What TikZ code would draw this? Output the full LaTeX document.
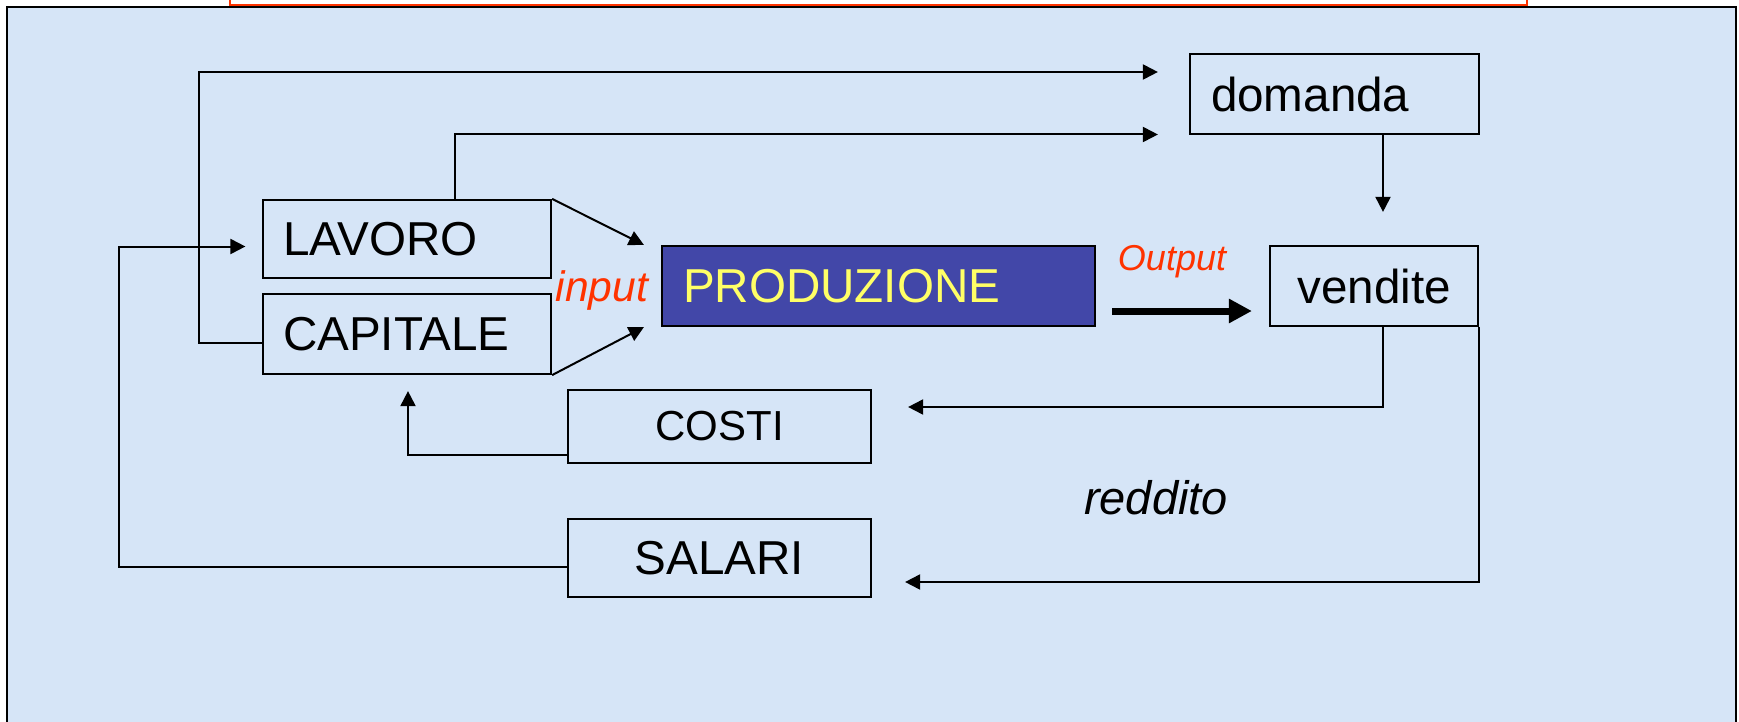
\documentclass[tikz,border=0pt]{standalone}
\usepackage{fontspec}
\setmainfont{Liberation Sans}
\usetikzlibrary{arrows.meta,calc}

\definecolor{panelblue}{RGB}{214,229,247}
\definecolor{prodblue}{RGB}{66,71,168}
\definecolor{prodyellow}{RGB}{255,255,102}
\definecolor{labelred}{RGB}{255,51,0}

\newcommand{\bigtext}{\fontsize{23.8pt}{28pt}\selectfont}
\newcommand{\costitext}{\fontsize{21pt}{25pt}\selectfont}

\tikzset{
  box/.style={draw=black, line width=1.1pt, rectangle, inner ysep=0pt,
              font=\bigtext},
  leftbox/.style={box, align=left},
  arr/.style={-{Triangle[length=7.5pt,width=7.5pt]}, line width=1pt},
  flowarr/.style={-{Triangle[length=11.5pt,width=11.5pt]}, line width=3.5pt},
  tag/.style={inner sep=0pt, font=\fontsize{#1}{#1}\selectfont\itshape},
}

\begin{document}
\begin{tikzpicture}[x=0.5pt,y=-0.5pt]
  \useasboundingbox (0,0) rectangle (1739,722);
  \clip (0,0) rectangle (1739,722);

  % slide panel and title frame
  \fill[white] (0,0) rectangle (1739,722);
  \draw[line width=1.2pt, fill=panelblue] (7,7) rectangle (1736,760);
  \draw[labelred, line width=1pt, fill=white] (230,-20) rectangle (1527,5.5);

  % boxes
  \node[leftbox, minimum width=144.5pt, minimum height=40pt,
        text width=123.5pt, inner xsep=10.5pt] (domanda) at (1334.5,94) {domanda};
  \node[leftbox, minimum width=144pt, minimum height=39pt,
        text width=124pt, inner xsep=10pt] (lavoro) at (407,239) {LAVORO};
  \node[leftbox, minimum width=144pt, minimum height=40pt,
        text width=124pt, inner xsep=10pt] (capitale) at (407,334) {CAPITALE};
  \node[leftbox, minimum width=216.5pt, minimum height=40pt,
        text width=195.5pt, inner xsep=10.5pt, fill=prodblue,
        text=prodyellow] (prod) at (878.5,286) {PRODUZIONE};
  \node[box, minimum width=104pt, minimum height=40pt] (vendite) at (1374,286) {vendite};
  \node[box, minimum width=151.5pt, minimum height=36.5pt,
        font=\costitext] (costi) at (719.5,426.5) {COSTI};
  \node[box, minimum width=151.5pt, minimum height=39pt] (salari) at (719.5,558) {SALARI};

  % labels
  \node[tag=21.3pt, text=labelred] (input) at (602,290) {input};
  \node[tag=18pt, text=labelred] (output) at (1172,262) {Output};
  \node[tag=23.5pt] (reddito) at (1156,498) {reddito};

  % routing points
  \coordinate (k1) at (198.5,72);
  \coordinate (k2) at (455,134.5);
  \coordinate (vx) at (1383,0);
  \coordinate (ky) at (0,407);
  \coordinate (k5) at (408,0);
  \coordinate (ks) at (0,582);
  \coordinate (k7) at (119,246.5);

  % connectors
  \draw[arr, shorten >=15.5pt] ([yshift=-4.5pt]capitale.west) -| (k1) -- (k1 -| domanda.west);
  \draw[arr, shorten >=15.5pt] (lavoro.north -| k2) |- (k2 -| domanda.west);
  \draw[arr, shorten >=16.5pt] (domanda.south -| vx) -- (vendite.north -| vx);
  \draw[arr, shorten >=18pt] (vendite.south -| vx) |- (costi.east |- ky);
  \draw[arr, shorten >=8pt] ([yshift=-14.25pt]costi.west) -| (capitale.south -| k5);
  \draw[arr, shorten >=16.5pt] (vendite.south east) |- (salari.east |- ks);
  \draw[arr, shorten >=8.25pt] ([yshift=-4.35pt]salari.west) -| (k7) -- (k7 -| lavoro.west);
  \draw[arr] (lavoro.north east) -- ([xshift=-8.5pt]prod.north west);
  \draw[arr] (capitale.south east) -- ([xshift=-8.5pt]prod.south west);
  \draw[flowarr] ([xshift=8pt,yshift=-12.5pt]prod.east) -- ([xshift=-8.5pt,yshift=-12.5pt]vendite.west);
\end{tikzpicture}
\end{document}
